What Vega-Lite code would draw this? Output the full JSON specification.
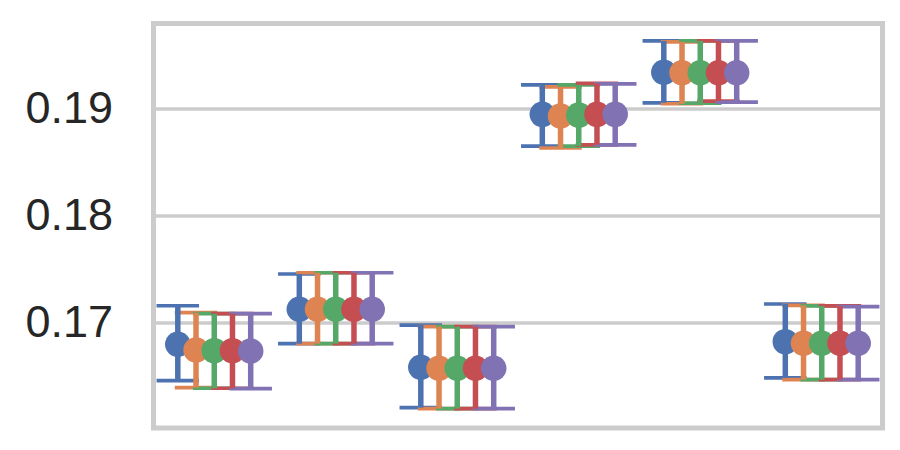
{
  "$schema": "https://vega.github.io/schema/vega-lite/v6.json",
  "autosize": "none",
  "width": 729,
  "height": 404.5,
  "padding": {"left": 153.5, "top": 23.5, "right": 17.5, "bottom": 22},
  "background": "white",
  "config": {
    "view": {"stroke": "#cccccc", "strokeWidth": 5},
    "axis": {"labelFont": "Liberation Sans"}
  },
  "data": {
    "values": [
      {"group": "g1", "hue": "A", "mean": 0.16801, "lo": 0.16462, "hi": 0.17161},
      {"group": "g1", "hue": "B", "mean": 0.16748, "lo": 0.16397, "hi": 0.17096},
      {"group": "g1", "hue": "C", "mean": 0.16742, "lo": 0.16391, "hi": 0.17087},
      {"group": "g1", "hue": "D", "mean": 0.16742, "lo": 0.16391, "hi": 0.17087},
      {"group": "g1", "hue": "E", "mean": 0.16738, "lo": 0.16387, "hi": 0.17087},
      {"group": "g2", "hue": "A", "mean": 0.17128, "lo": 0.16807, "hi": 0.17457},
      {"group": "g2", "hue": "B", "mean": 0.17128, "lo": 0.16807, "hi": 0.17469},
      {"group": "g2", "hue": "C", "mean": 0.17128, "lo": 0.16807, "hi": 0.17469},
      {"group": "g2", "hue": "D", "mean": 0.17128, "lo": 0.16807, "hi": 0.17469},
      {"group": "g2", "hue": "E", "mean": 0.17128, "lo": 0.16807, "hi": 0.17469},
      {"group": "g3", "hue": "A", "mean": 0.16587, "lo": 0.16210, "hi": 0.16981},
      {"group": "g3", "hue": "B", "mean": 0.16577, "lo": 0.16201, "hi": 0.16966},
      {"group": "g3", "hue": "C", "mean": 0.16577, "lo": 0.16201, "hi": 0.16966},
      {"group": "g3", "hue": "D", "mean": 0.16577, "lo": 0.16201, "hi": 0.16966},
      {"group": "g3", "hue": "E", "mean": 0.16577, "lo": 0.16201, "hi": 0.16966},
      {"group": "g4", "hue": "A", "mean": 0.18947, "lo": 0.18651, "hi": 0.19223},
      {"group": "g4", "hue": "B", "mean": 0.18931, "lo": 0.18633, "hi": 0.19204},
      {"group": "g4", "hue": "C", "mean": 0.18940, "lo": 0.18651, "hi": 0.19223},
      {"group": "g4", "hue": "D", "mean": 0.18947, "lo": 0.18663, "hi": 0.19236},
      {"group": "g4", "hue": "E", "mean": 0.18947, "lo": 0.18663, "hi": 0.19232},
      {"group": "g5", "hue": "A", "mean": 0.19341, "lo": 0.19055, "hi": 0.19633},
      {"group": "g5", "hue": "B", "mean": 0.19335, "lo": 0.19046, "hi": 0.19624},
      {"group": "g5", "hue": "C", "mean": 0.19335, "lo": 0.19052, "hi": 0.19633},
      {"group": "g5", "hue": "D", "mean": 0.19335, "lo": 0.19071, "hi": 0.19633},
      {"group": "g5", "hue": "E", "mean": 0.19335, "lo": 0.19062, "hi": 0.19633},
      {"group": "g6", "hue": "A", "mean": 0.16826, "lo": 0.16487, "hi": 0.17177},
      {"group": "g6", "hue": "B", "mean": 0.16811, "lo": 0.16471, "hi": 0.17165},
      {"group": "g6", "hue": "C", "mean": 0.16811, "lo": 0.16471, "hi": 0.17159},
      {"group": "g6", "hue": "D", "mean": 0.16811, "lo": 0.16471, "hi": 0.17159},
      {"group": "g6", "hue": "E", "mean": 0.16811, "lo": 0.16471, "hi": 0.17152}
    ]
  },
  "encoding": {
    "x": {"field": "group", "type": "nominal", "scale": {"paddingInner": 0, "paddingOuter": 0}, "axis": null},
    "xOffset": {"field": "hue", "type": "nominal", "scale": {"paddingInner": 0, "paddingOuter": 0.8333}},
    "color": {"field": "hue", "type": "nominal", "legend": null,
      "scale": {"domain": ["A", "B", "C", "D", "E"], "range": ["#4c72b0", "#dd8452", "#55a868", "#c44e52", "#8172b3"]}}
  },
  "layer": [
    {
      "mark": {"type": "tick", "size": 42.5, "thickness": 3.7, "opacity": 1, "orient": "horizontal"},
      "encoding": {
        "y": {"field": "lo", "type": "quantitative",
          "scale": {"domain": [0.1602, 0.19795], "zero": false, "nice": false},
          "axis": {"values": [0.17, 0.18, 0.19], "format": ".2f", "title": null, "domain": false, "ticks": false,
            "grid": true, "gridColor": "#cccccc", "gridWidth": 3.5, "labelFontSize": 45, "labelColor": "#262626", "labelPadding": 41}}
      }
    },
    {
      "mark": {"type": "tick", "size": 42.5, "thickness": 3.7, "opacity": 1, "orient": "horizontal"},
      "encoding": {"y": {"field": "hi", "type": "quantitative"}}
    },
    {
      "mark": {"type": "rule", "strokeWidth": 5.5},
      "encoding": {"y": {"field": "lo", "type": "quantitative"}, "y2": {"field": "hi"}}
    },
    {
      "mark": {"type": "circle", "size": 650, "opacity": 1},
      "encoding": {"y": {"field": "mean", "type": "quantitative"}}
    }
  ]
}
